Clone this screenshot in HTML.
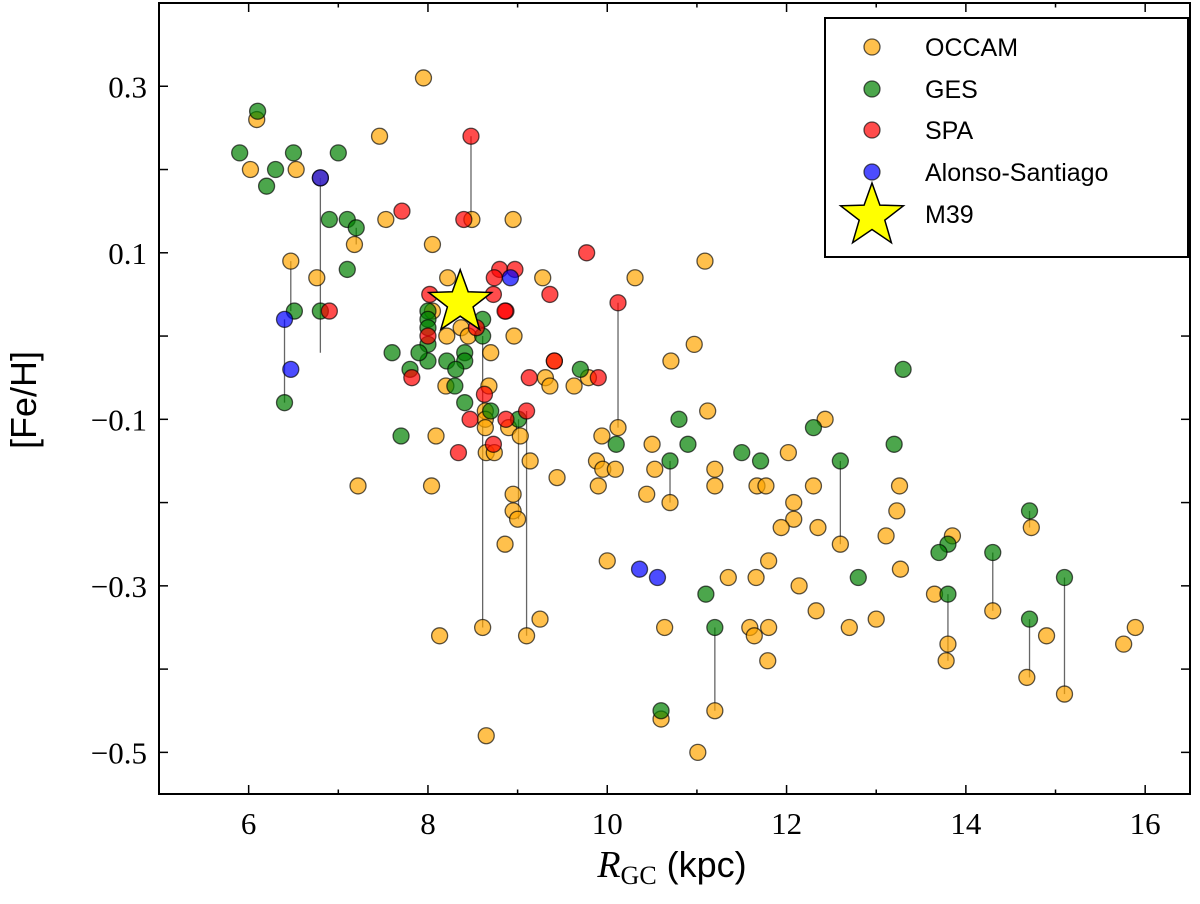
<!DOCTYPE html>
<html><head><meta charset="utf-8"><style>
html,body{margin:0;padding:0;background:#fff;}
svg text{font-family:"Liberation Serif",serif;}
</style></head><body>
<svg id="chart" width="1200" height="899" viewBox="0 0 1200 899" xmlns="http://www.w3.org/2000/svg">
<g id="lines"></g>
<g id="marks"></g>
<g id="axes"></g>
<g id="legend"></g>
</svg>
<script>
const xTicks=[6,8,10,12,14,16];
const xMinor=[5,7,9,11,13,15];
const yTicks=[0.3,0.1,-0.1,-0.3,-0.5];
const yMinor=[0.4,0.2,0.0,-0.2,-0.4];
const yTickLabels=["0.3","0.1","\u22120.1","\u22120.3","\u22120.5"];
const occamX=[6.09,6.02,6.53,7.46,7.95,7.53,8.49,8.95,7.18,8.05,6.47,6.76,8.22,9.28,10.31,11.09,8.21,8.37,8.45,8.96,8.05,8.7,8.2,8.68,9.31,9.36,9.41,9.79,9.63,8.64,8.64,8.64,8.9,9.03,8.65,8.74,8.09,8.04,9.14,9.44,8.95,8.95,9.0,9.94,10.12,9.88,9.95,10.09,9.9,10.5,10.53,10.44,10.7,8.86,10.0,9.25,8.13,10.64,10.6,8.65,8.61,9.1,10.97,10.71,11.12,12.43,12.02,11.2,11.2,11.67,11.77,12.3,13.26,12.08,12.08,11.94,12.35,13.23,13.11,12.6,11.8,11.35,11.66,13.27,12.14,12.33,12.7,13.0,11.59,11.8,11.64,11.79,11.01,11.2,7.22,6.8,13.85,13.65,13.8,13.78,14.3,14.73,14.68,14.9,15.1,15.89,15.76];
const occamY=[0.26,0.20,0.20,0.24,0.31,0.14,0.14,0.14,0.11,0.11,0.09,0.07,0.07,0.07,0.07,0.09,0.0,0.01,0.0,0.0,0.03,-0.02,-0.06,-0.06,-0.05,-0.06,-0.03,-0.05,-0.06,-0.09,-0.10,-0.11,-0.11,-0.12,-0.14,-0.14,-0.12,-0.18,-0.15,-0.17,-0.19,-0.21,-0.22,-0.12,-0.11,-0.15,-0.16,-0.16,-0.18,-0.13,-0.16,-0.19,-0.20,-0.25,-0.27,-0.34,-0.36,-0.35,-0.46,-0.48,-0.35,-0.36,-0.01,-0.03,-0.09,-0.10,-0.14,-0.16,-0.18,-0.18,-0.18,-0.18,-0.18,-0.20,-0.22,-0.23,-0.23,-0.21,-0.24,-0.25,-0.27,-0.29,-0.29,-0.28,-0.30,-0.33,-0.35,-0.34,-0.35,-0.35,-0.36,-0.39,-0.50,-0.45,-0.18,0.19,-0.24,-0.31,-0.37,-0.39,-0.33,-0.23,-0.41,-0.36,-0.43,-0.35,-0.37];
const gesX=[6.1,5.9,6.5,7.0,6.3,6.2,6.9,7.1,7.2,6.51,7.1,6.8,6.4,8.0,8.0,8.0,8.0,8.0,8.61,8.61,7.6,7.9,8.21,8.41,8.41,8.31,7.8,8.3,8.41,8.7,9.01,7.7,9.7,10.1,10.8,10.9,10.7,10.6,13.3,12.3,13.2,11.5,11.71,12.6,12.8,11.1,11.2,13.8,13.7,13.8,14.3,14.71,14.71,15.1];
const gesY=[0.27,0.22,0.22,0.22,0.20,0.18,0.14,0.14,0.13,0.03,0.08,0.03,-0.08,0.03,0.02,0.01,-0.01,-0.03,0.02,0.0,-0.02,-0.02,-0.03,-0.02,-0.03,-0.04,-0.04,-0.06,-0.08,-0.09,-0.10,-0.12,-0.04,-0.13,-0.10,-0.13,-0.15,-0.45,-0.04,-0.11,-0.13,-0.14,-0.15,-0.15,-0.29,-0.31,-0.35,-0.25,-0.26,-0.31,-0.26,-0.21,-0.34,-0.29];
const spaX=[8.48,7.71,8.4,6.9,8.8,8.97,8.74,9.36,8.02,8.73,8.87,8.0,8.54,8.86,9.77,10.12,7.82,8.63,9.13,9.41,9.9,8.47,8.87,9.1,8.73,8.34];
const spaY=[0.24,0.15,0.14,0.03,0.08,0.08,0.07,0.05,0.05,0.05,0.03,0.0,0.01,0.03,0.10,0.04,-0.05,-0.07,-0.05,-0.03,-0.05,-0.10,-0.10,-0.09,-0.13,-0.14];
const alonsoX=[6.8,6.4,6.47,8.92,10.36,10.56];
const alonsoY=[0.19,0.02,-0.04,0.07,-0.28,-0.29];
const linkX=[6.8,6.4,6.47,7.2,8.48,8.61,9.01,9.1,10.12,10.7,12.6,11.2,13.8,14.3,14.71,14.71,15.1];
const linkTop=[0.19,0.02,0.09,0.13,0.24,0.0,-0.10,-0.09,0.04,-0.15,-0.15,-0.35,-0.31,-0.26,-0.21,-0.34,-0.29];
const linkBottom=[-0.02,-0.08,0.03,0.11,0.14,-0.35,-0.22,-0.36,-0.11,-0.20,-0.25,-0.45,-0.39,-0.33,-0.23,-0.41,-0.43];
const starX=[8.36];
const starY=[0.04];

const L=159,R=1190,T=3,B=794,XMIN=5,XMAX=16.5,YMIN=-0.55,YMAX=0.4;
const sx=v=>L+(v-XMIN)/(XMAX-XMIN)*(R-L);
const sy=v=>B-(v-YMIN)/(YMAX-YMIN)*(B-T);
const NS="http://www.w3.org/2000/svg";
function mk(tag,attrs,parent){const e=document.createElementNS(NS,tag);for(const k in attrs)e.setAttribute(k,attrs[k]);parent.appendChild(e);return e;}
const gl=document.getElementById('lines'),gm=document.getElementById('marks'),ga=document.getElementById('axes'),gg=document.getElementById('legend');

for(let i=0;i<linkX.length;i++){
  const l=mk('line',{x1:sx(linkX[i]),x2:sx(linkX[i]),y1:sy(linkTop[i]),y2:sy(linkBottom[i]),stroke:'#000','stroke-opacity':0.6,'stroke-width':1.3},gl);
  
  
}
function series(xs,ys,color,name){
  for(let i=0;i<xs.length;i++){
    const c=mk('circle',{cx:sx(xs[i]),cy:sy(ys[i]),r:8,fill:color,'fill-opacity':0.7,stroke:'#000','stroke-opacity':0.65,'stroke-width':1.3},gm);
    
    
  }
}
series(occamX,occamY,'#FFA500','occam-point');
series(gesX,gesY,'#008000','ges-point');
series(spaX,spaY,'#FF0000','spa-point');
series(alonsoX,alonsoY,'#0000FF','alonso-santiago-point');
function starPts(cx,cy,ro,ri){let p=[];for(let k=0;k<10;k++){const a=-Math.PI/2+k*Math.PI/5;const r=k%2?ri:ro;p.push((cx+r*Math.cos(a)).toFixed(1)+','+(cy+r*Math.sin(a)).toFixed(1));}return p.join(' ');}
for(let i=0;i<starX.length;i++){
  const s=mk('polygon',{points:starPts(sx(starX[i]),sy(starY[i]),33,13.5),fill:'#FFFF00',stroke:'#000','stroke-width':1.5},gm);
  
  
}

// axes frame
const fr=mk('rect',{x:L,y:T,width:R-L,height:B-T,fill:'none',stroke:'#000','stroke-width':2},ga);


xTicks.forEach((v,i)=>{
  const x=sx(v);
  mk('line',{x1:x,x2:x,y1:B,y2:B-9,stroke:'#000','stroke-width':1.5},ga);
  mk('line',{x1:x,x2:x,y1:T,y2:T+9,stroke:'#000','stroke-width':1.5},ga);
  const t=mk('text',{x:x,y:B+40,'text-anchor':'middle','font-size':31},ga);
  t.textContent=String(v);
  
  
});
xMinor.forEach(v=>{const x=sx(v);mk('line',{x1:x,x2:x,y1:B,y2:B-4.5,stroke:'#000','stroke-width':1.5},ga);mk('line',{x1:x,x2:x,y1:T,y2:T+4.5,stroke:'#000','stroke-width':1.5},ga);});
yTicks.forEach((v,i)=>{
  const y=sy(v);
  mk('line',{x1:L,x2:L+9,y1:y,y2:y,stroke:'#000','stroke-width':1.5},ga);
  mk('line',{x1:R,x2:R-9,y1:y,y2:y,stroke:'#000','stroke-width':1.5},ga);
  const t=mk('text',{x:L-12,y:y+11,'text-anchor':'end','font-size':31},ga);
  t.textContent=yTickLabels[i];
  
  
});
yMinor.forEach(v=>{const y=sy(v);mk('line',{x1:L,x2:L+9,y1:y,y2:y,stroke:'#000','stroke-width':1.5},ga);mk('line',{x1:R,x2:R-9,y1:y,y2:y,stroke:'#000','stroke-width':1.5},ga);});

// legend
const lg=mk('rect',{x:825,y:18,width:363,height:239,fill:'#fff',stroke:'#000','stroke-width':2},gg);


const legNames=['OCCAM','GES','SPA','Alonso-Santiago','M39'];
const legColors=['#FFA500','#008000','#FF0000','#0000FF'];
const legYs=[47,89,130,172,214];
legNames.forEach((n,i)=>{
  const y=legYs[i];
  if(i<4){
    const c=mk('circle',{cx:872,cy:y,r:8,fill:legColors[i],'fill-opacity':0.7,stroke:'#000','stroke-opacity':0.65,'stroke-width':1.3},gg);
    
    
  } else {
    const s=mk('polygon',{points:starPts(872,y+2,33,13.5),fill:'#FFFF00',stroke:'#000','stroke-width':1.5},gg);
    
    
  }
  const t=mk('text',{x:925,y:y+9,'font-size':25,'font-family':'Liberation Sans, sans-serif'},gg);
  t.setAttribute('style','font-family:"Liberation Sans",sans-serif');
  t.textContent=n;
  
  
});
</script>
<svg width="1200" height="899" style="position:absolute;left:0;top:0;pointer-events:none" xmlns="http://www.w3.org/2000/svg">
<text x="36" y="400" transform="rotate(-90 36 400)" text-anchor="middle" font-size="36" style="font-family:'Liberation Sans',sans-serif">[Fe/H]</text>
<text x="672" y="877" text-anchor="middle"><tspan font-size="38" font-style="italic" style="font-family:'Liberation Serif',serif">R</tspan><tspan font-size="26" dy="7" style="font-family:'Liberation Serif',serif">GC</tspan><tspan font-size="36" dy="-7" style="font-family:'Liberation Sans',sans-serif"> (kpc)</tspan></text>
</svg>
</body></html>
